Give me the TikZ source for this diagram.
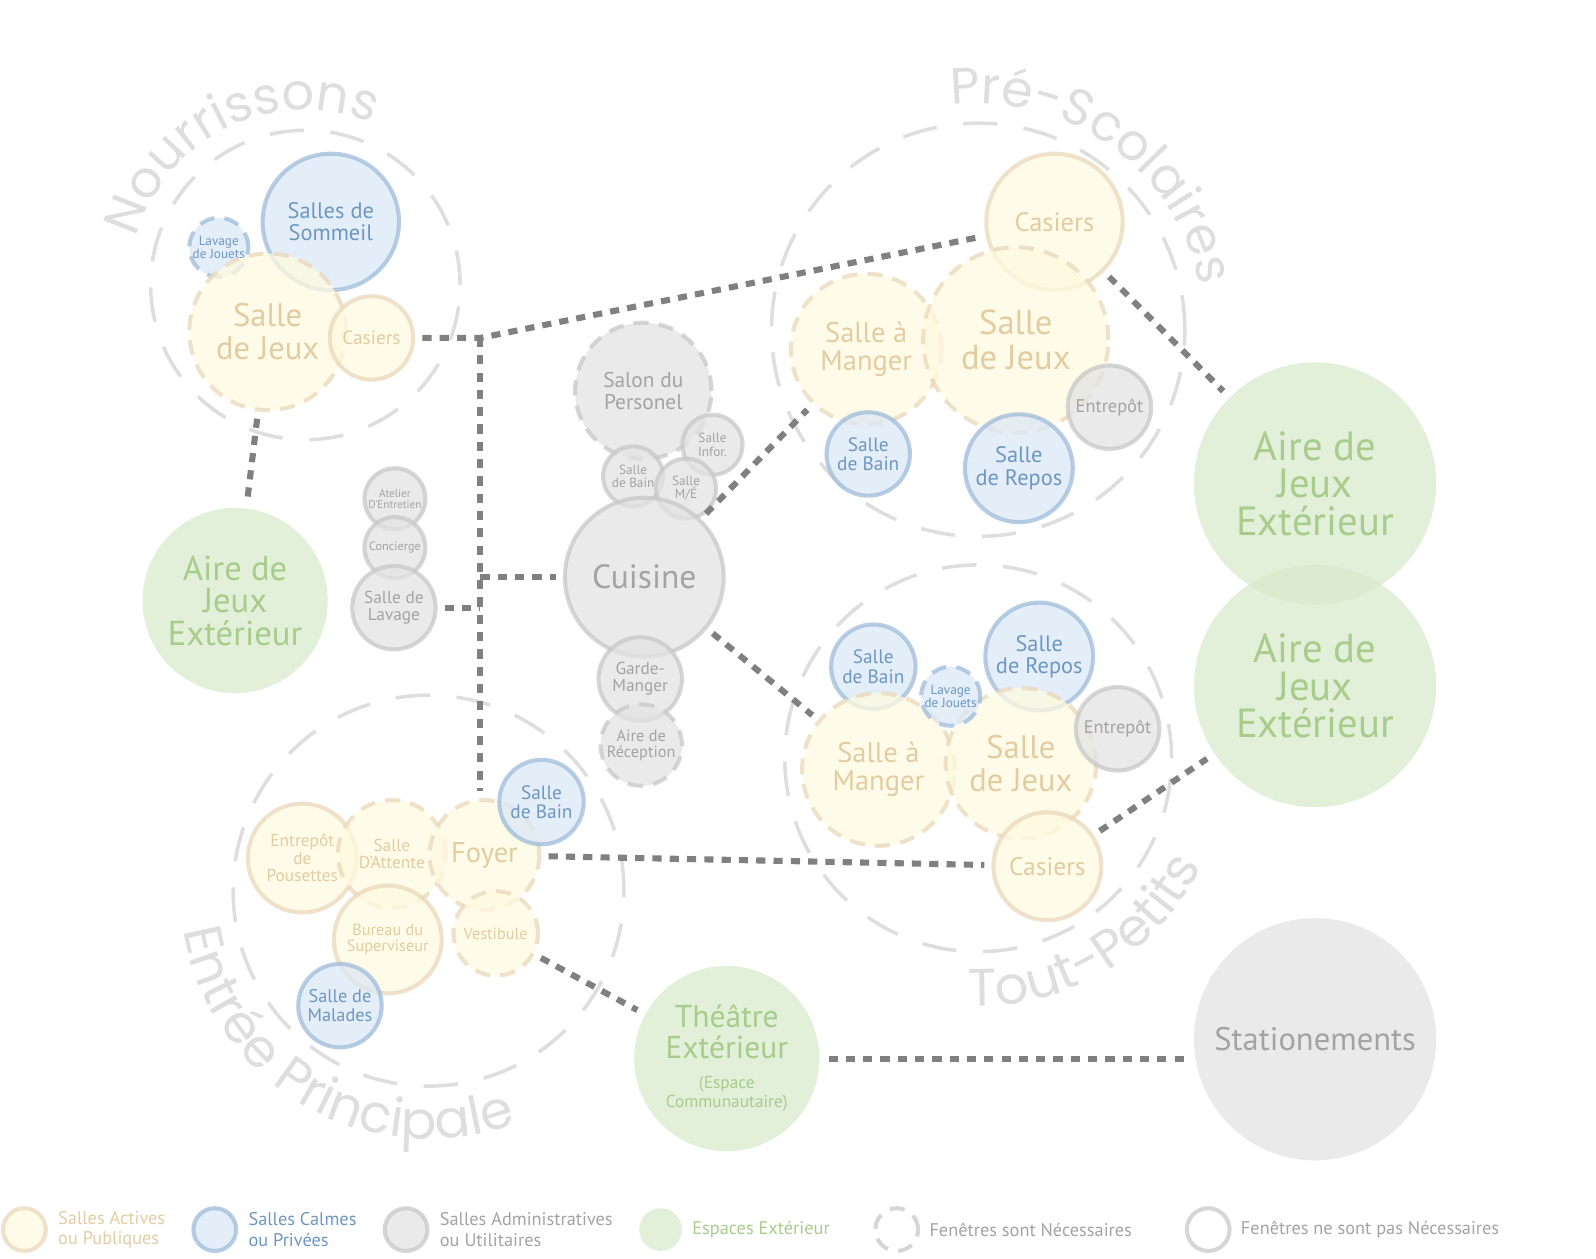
\documentclass[tikz,border=0pt]{standalone}
\usepackage{fontspec}
\setmainfont{PT Sans}
\newfontfamily\grpfont{Poppins}
\usepackage{tikz}
\usetikzlibrary{positioning}
\usetikzlibrary{decorations.text}

\definecolor{actfill}{HTML}{FEFAE0}
\definecolor{actdraw}{HTML}{EAD8BB}
\definecolor{acttext}{HTML}{E3CCA2}
\definecolor{calmfill}{HTML}{DBE8F6}
\definecolor{calmdraw}{HTML}{9FBCDA}
\definecolor{calmtext}{HTML}{6D97C2}
\definecolor{admfill}{HTML}{E3E3E3}
\definecolor{admdraw}{HTML}{C8C8C8}
\definecolor{admtext}{HTML}{A3A3A3}
\definecolor{outfill}{HTML}{D8EACC}
\definecolor{outtext}{HTML}{A8CC8C}
\definecolor{grpline}{HTML}{DEDEDE}
\definecolor{linkcol}{HTML}{808080}

\begin{document}
\begin{tikzpicture}
      [
        x=1pt, y=-1pt,
        room/.style={circle, inner sep=0pt, line width=4pt, align=center,
          fill opacity=0.75, draw opacity=0.75, text opacity=1},
        act/.style={room, fill=actfill, draw=actdraw, text=acttext},
        calm/.style={room, fill=calmfill, draw=calmdraw, text=calmtext},
        adm/.style={room, fill=admfill, draw=admdraw, text=admtext},
        outd/.style={room, fill=outfill, text=outtext},
        win/.style={dash pattern=on 15pt off 10pt},
        fs/.style={font=\fontsize{#1}{#1}\selectfont},
        grp/.style={circle, draw=grpline, line width=3.5pt, dash pattern=on 34pt off 26pt, inner sep=0pt},
        grplabel/.style 2 args={decorate, decoration={text along path, text align=center, text color=grpline,
          text={|\grpfont\fontsize{#2}{#2}\selectfont|#1}}},
        link/.style={draw=linkcol, line width=6pt, dash pattern=on 9pt off 8pt, shorten <=7pt, shorten >=7pt},
        legtext/.style={inner sep=0pt, align=left, font=\fontsize{18}{20}\selectfont}
      ]

      \useasboundingbox (0,0) rectangle (1568,1236);

      \node[grp, minimum size=304] (nourr) at (300,280) {};
      \node[grp, minimum size=406] (pre) at (961,324) {};
      \node[grp, minimum size=380] (tout) at (961,745) {};
      \node[grp, minimum size=384] (entree) at (421,875) {};

      \path[grplabel={Nourrissons}{50}] (nourr.center) ++(154:172) arc[start angle=154, end angle=334, radius=172];
      \path[grplabel={Pré-Scolaires}{50}] (pre.center) ++(216:222) arc[start angle=216, end angle=396, radius=222];
      \path[grplabel={Tout-Petits}{52}] (tout.center) ++(149:244) arc[start angle=149, end angle=-31, radius=244];
      \path[grplabel={Entrée Principale}{52}] (entree.center) ++(210:244) arc[start angle=210, end angle=30, radius=244];

      \node[calm, win, minimum size=58, fs=13] (lavN) at (215,243) {Lavage\\de Jouets};
      \node[calm, minimum size=134, fs=22] (somN) at (325,218) {Salles de\\Sommeil};
      \node[act, win, minimum size=154, fs=32] (jeuN) at (263,326) {Salle\\de Jeux};
      \node[act, minimum size=82, fs=19] (casN) at (365,332) {Casiers};
      \node[outd, minimum size=182, font=\fontsize{34}{32}\selectfont] (aireL) at (231,590) {Aire de\\Jeux\\Extérieur};

      \node[adm, minimum size=60, fs=11] (atel) at (388,490) {Atelier\\D'Entretien};
      \node[adm, minimum size=60, fs=12] (conc) at (388,538) {Concierge};
      \node[adm, minimum size=82, fs=17] (lav) at (387,597) {Salle de\\Lavage};

      \node[adm, win, minimum size=134, fs=21] (salon) at (632,384) {Salon du\\Personel};
      \node[adm, minimum size=59, fs=13] (infor) at (700,437) {Salle\\Infor.};
      \node[adm, minimum size=59, fs=13] (bainC) at (622,468) {Salle\\de Bain};
      \node[adm, minimum size=59, fs=13] (me) at (674,480) {Salle\\M/É};
      \node[adm, minimum size=156, fs=33] (cuis) at (633,567) {Cuisine};
      \node[adm, minimum size=82, fs=17] (garde) at (629,667) {Garde-\\Manger};
      \node[adm, win, minimum size=80, fs=16] (recep) at (630,732) {Aire de\\Réception};

      \node[act, win, minimum size=148, fs=28] (manP) at (851,343) {Salle à\\Manger};
      \node[calm, minimum size=82, fs=19] (bainP) at (853,446) {Salle\\de Bain};
      \node[act, minimum size=134, fs=26] (casP) at (1036,218) {Casiers};
      \node[act, win, minimum size=182, fs=34] (jeuP) at (998,334) {Salle\\de Jeux};
      \node[adm, minimum size=82, fs=18] (entP) at (1090,400) {Entrepôt};
      \node[calm, minimum size=106, fs=22] (repP) at (1001,460) {Salle\\de Repos};

      \node[outd, minimum size=238, font=\fontsize{40}{37}\selectfont] (aireT) at (1292,475) {Aire de\\Jeux\\Extérieur};
      \node[outd, minimum size=238, font=\fontsize{40}{37}\selectfont] (aireB) at (1292,674) {Aire de\\Jeux\\Extérieur};

      \node[calm, minimum size=83, fs=19] (bainT) at (858,655) {Salle\\de Bain};
      \node[calm, minimum size=106, fs=22] (repT) at (1021,645) {Salle\\de Repos};
      \node[act, win, minimum size=150, fs=28] (manT) at (863,756) {Salle à\\Manger};
      \node[act, win, minimum size=148, fs=32] (jeuT) at (1003,750) {Salle\\de Jeux};
      \node[calm, win, minimum size=58, fs=13] (lavT) at (934,684) {Lavage\\de Jouets};
      \node[adm, minimum size=82, fs=18] (entT) at (1098,716) {Entrepôt};
      \node[act, minimum size=106, fs=25] (casT) at (1029,851) {Casiers};

      \node[act, minimum size=107, fs=17] (pous) at (297,843) {Entrepôt\\de\\Pousettes};
      \node[act, win, minimum size=106, fs=17] (att) at (385,839) {Salle\\D'Attente};
      \node[act, win, minimum size=108, fs=28] (foy) at (476,840) {Foyer};
      \node[calm, minimum size=83, fs=19] (bainE) at (532,788) {Salle\\de Bain};
      \node[act, minimum size=106, fs=16] (bur) at (381,923) {Bureau du\\Superviseur};
      \node[act, win, minimum size=83, fs=16] (vest) at (487,917) {Vestibule};
      \node[calm, minimum size=82, fs=18] (mal) at (334,988) {Salle de\\Malades};

      \node[outd, minimum size=182, font=\fontsize{31}{30}\selectfont] (theatre) at (714,1040)
        {Théâtre\\Extérieur\\{\fontsize{17}{18}\selectfont\begin{tabular}[t]{@{}c@{}}(Espace\\Communautaire)\end{tabular}}};
      \node[adm, draw=none, minimum size=238, fs=32] (stat) at (1292,1021) {Stationements};

      \coordinate (jTop) at (472,332);
      \draw[link] (casN) -- (jTop) -- (casP);
      \draw[link, shorten <=0pt] (jTop) -- (jTop |- foy.north);
      \draw[link, shorten >=0pt] (lav) -- (lav -| jTop);
      \draw[link, shorten <=0pt] (cuis -| jTop) -- (cuis);
      \draw[link] (jeuN) -- (aireL);
      \draw[link] (cuis) -- (manP);
      \draw[link] (cuis) -- (manT);
      \draw[link] (casP) -- (aireT);
      \draw[link] (casT) -- (aireB);
      \draw[link] (foy) -- (casT);
      \draw[link] (vest) -- (theatre);
      \draw[link] (theatre.east) -- (theatre.east -| stat.west);

      \node[act, minimum size=42] (legAct) at (24,1208) {};
      \node[legtext, text=acttext, right=10pt of legAct] (legActT) {Salles Actives\\ou Publiques};
      \node[calm, minimum size=42] (legCalm) at (211,1208) {};
      \node[legtext, text=calmtext, right=10pt of legCalm] (legCalmT) {Salles Calmes\\ou Privées};
      \node[adm, minimum size=42] (legAdm) at (399,1208) {};
      \node[legtext, text=admtext, right=10pt of legAdm] (legAdmT) {Salles Administratives\\ou Utilitaires};
      \node[outd, minimum size=42] (legOut) at (649,1208) {};
      \node[legtext, text=outtext, right=8pt of legOut] (legOutT) {Espaces Extérieur};
      \node[room, draw=admdraw, win, minimum size=42] (legWin) at (881,1208) {};
      \node[legtext, text=admtext, right=9pt of legWin] (legWinT) {Fenêtres sont Nécessaires};
      \node[room, draw=admdraw, minimum size=42] (legNoWin) at (1187,1208) {};
      \node[legtext, text=admtext, right=9pt of legNoWin] (legNoWinT) {Fenêtres ne sont pas Nécessaires};
    \end{tikzpicture}
\end{document}
